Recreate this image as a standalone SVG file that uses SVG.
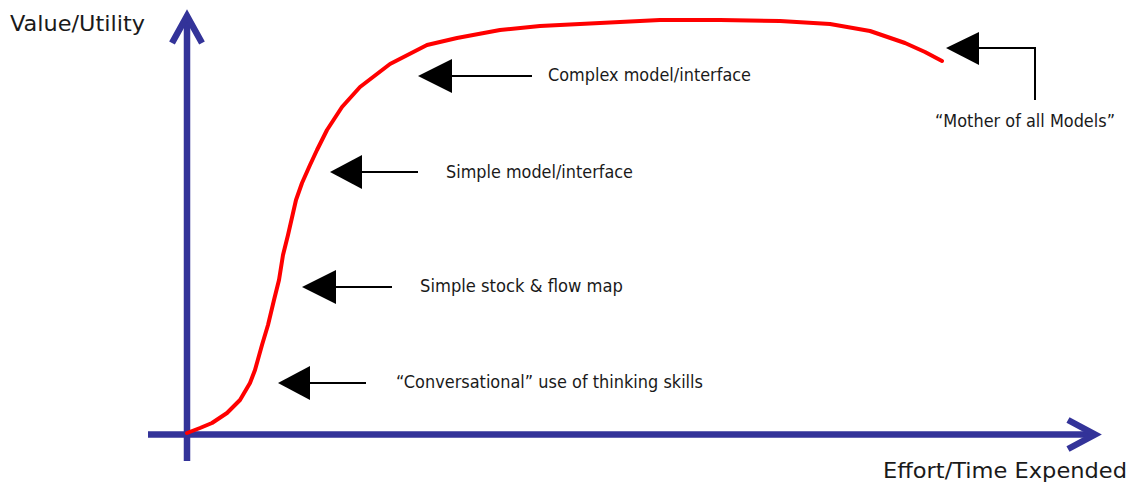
<svg xmlns="http://www.w3.org/2000/svg" width="1131" height="485" viewBox="0 0 1131 485">
<style>
.axis{stroke:#333399;stroke-width:6.5;fill:none;stroke-linejoin:miter;stroke-miterlimit:10}
.curve{stroke:#ff0000;stroke-width:4;fill:none;stroke-linejoin:round;stroke-linecap:round}
.conn{stroke:#000;stroke-width:2;fill:none}
.head{fill:#000}
.big{font-family:"DejaVu Sans",Verdana,sans-serif;font-size:20.5px;fill:#1a1a1a}
.lbl{font-family:"DejaVu Sans",Verdana,sans-serif;font-size:17px;fill:#1a1a1a}
</style>
<g id="axes">
<line class="axis" x1="187" y1="461" x2="187" y2="18"/>
<polyline class="axis" points="172,43 187,16 202,43"/>
<line class="axis" x1="148" y1="434.5" x2="1094" y2="434.5"/>
<polyline class="axis" points="1068,420 1095,434.5 1068,449"/>
</g>
<g id="axis-labels">
<text id="y-label" class="big" x="10" y="31" textLength="135" lengthAdjust="spacingAndGlyphs">Value/Utility</text>
<text id="x-label" class="big" x="883" y="478" textLength="244" lengthAdjust="spacingAndGlyphs">Effort/Time Expended</text>
</g>
<g id="curve">
<polyline class="curve" points="187,433 200,428 212,423 227,413 240,400 250,383 255,370 262,345 268,325 274,300 279,280 283,255 288,235 296,200 302,183 310,165 317,150 327,130 342,107 360,87 390,64 427,45 457,38 500,30 540,26 600,23 660,20 720,20 780,21 830,24 870,31 905,43 925,52 942,61"/>
</g>
<g id="connectors">
<line class="conn" x1="450" y1="76" x2="532" y2="76"/>
<line class="conn" x1="360" y1="172" x2="418" y2="172"/>
<line class="conn" x1="334" y1="287" x2="392" y2="287"/>
<line class="conn" x1="308" y1="383" x2="366" y2="383"/>
<polyline class="conn" points="977,48 1035,48 1035,100"/>
<polygon class="head" points="418,76 452,59 452,93"/>
<polygon class="head" points="330,172 362,155 362,189"/>
<polygon class="head" points="302,287 336,270 336,304"/>
<polygon class="head" points="278,383 310,366 310,400"/>
<polygon class="head" points="946,48 979,32 979,65"/>
</g>
<g id="complex">
<text class="lbl" x="548" y="81" textLength="203" lengthAdjust="spacingAndGlyphs">Complex model/interface</text>
</g>
<g id="simple-model">
<text class="lbl" x="446" y="178" textLength="187" lengthAdjust="spacingAndGlyphs">Simple model/interface</text>
</g>
<g id="stock-flow">
<text class="lbl" x="420" y="292" textLength="203" lengthAdjust="spacingAndGlyphs">Simple stock &amp; flow map</text>
</g>
<g id="conversational">
<text class="lbl" x="396" y="388" textLength="307" lengthAdjust="spacingAndGlyphs">“Conversational” use of thinking skills</text>
</g>
<g id="mother">
<text class="lbl" x="935" y="127" textLength="180" lengthAdjust="spacingAndGlyphs">“Mother of all Models”</text>
</g>
</svg>
